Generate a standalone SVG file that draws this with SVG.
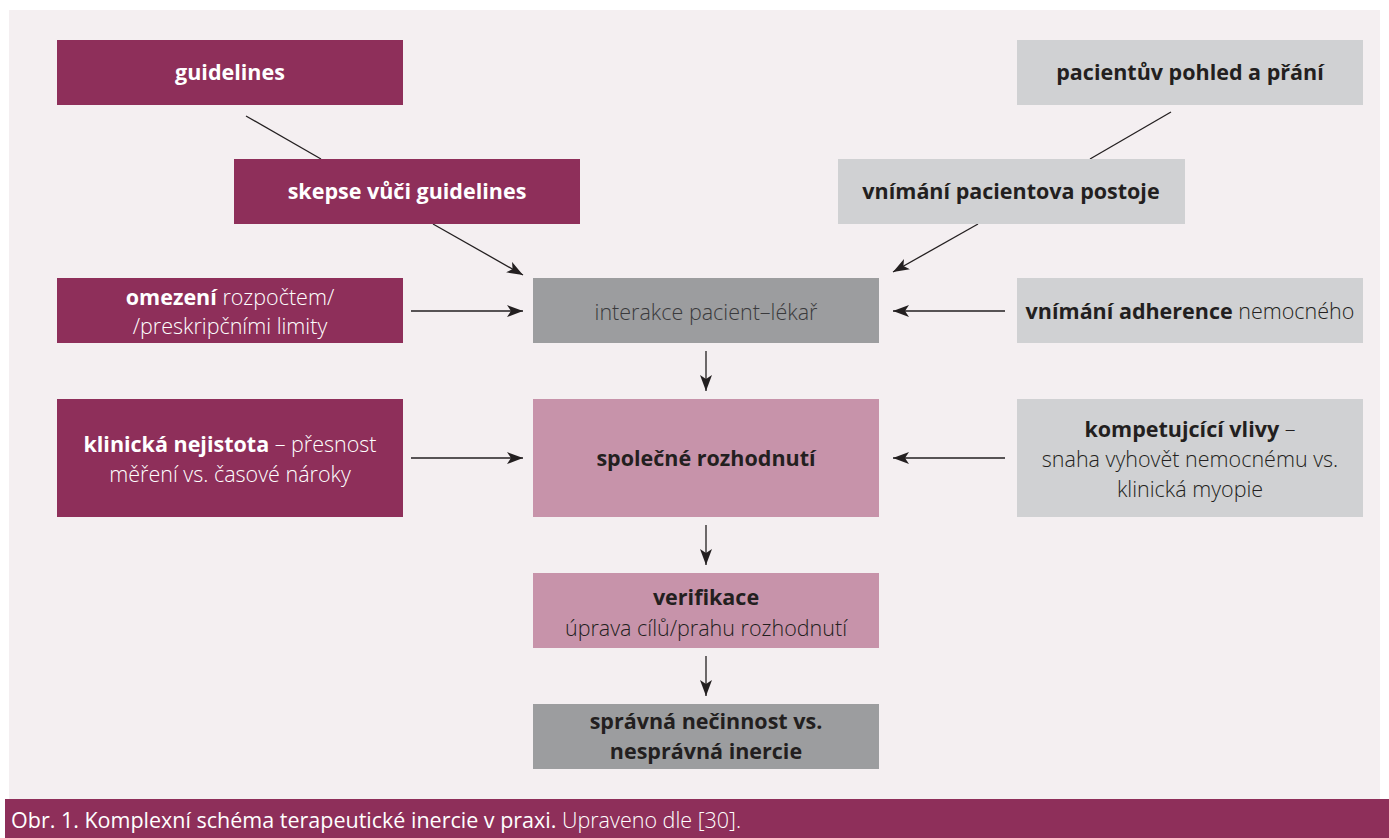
<svg xmlns="http://www.w3.org/2000/svg" width="1389" height="838" viewBox="0 0 1389 838">
<defs>
<marker id="ah" markerUnits="userSpaceOnUse" markerWidth="18" markerHeight="14" refX="16" refY="6" orient="auto">
<path d="M0,0 L16,6 L0,12 L4,6 z" fill="#231f20"/>
</marker>
<style>
.mag{fill:#8e2f5a}
.pink{fill:#c793aa}
.dg{fill:#9c9d9f}
.lg{fill:#d0d1d3}
text{font-family:"Open Sans",Lato,"Noto Sans",sans-serif;font-size:21.5px;text-anchor:middle}
.w{fill:#ffffff}
.d{fill:#231f20}
.b{font-weight:700}
.l{font-weight:300}
.conn line{stroke:#231f20;stroke-width:1.3}
.cap{font-size:21.5px;text-anchor:start;fill:#ffffff}
</style>
</defs>
<rect x="0" y="0" width="1389" height="838" fill="#ffffff"/>
<rect x="9" y="10" width="1371" height="789" fill="#f4eff1"/>
<rect x="5" y="799" width="1384" height="39" fill="#8e2f5a"/>
<text class="cap" x="11" y="828"><tspan>Obr. 1. Komplexní schéma terapeutické inercie v praxi.</tspan><tspan class="l"> Upraveno dle [30].</tspan></text>

<g class="conn">
<line x1="246" y1="116" x2="321" y2="159"/>
<line x1="433" y1="224" x2="523" y2="275" marker-end="url(#ah)"/>
<line x1="1171" y1="112" x2="1090" y2="159"/>
<line x1="978" y1="224" x2="893" y2="272" marker-end="url(#ah)"/>
<line x1="411" y1="311" x2="523" y2="311" marker-end="url(#ah)"/>
<line x1="1005" y1="311" x2="893" y2="311" marker-end="url(#ah)"/>
<line x1="411" y1="458" x2="523" y2="458" marker-end="url(#ah)"/>
<line x1="1005" y1="458" x2="893" y2="458" marker-end="url(#ah)"/>
<line x1="706" y1="351" x2="706" y2="391" marker-end="url(#ah)"/>
<line x1="706" y1="525" x2="706" y2="565" marker-end="url(#ah)"/>
<line x1="706" y1="656" x2="706" y2="696" marker-end="url(#ah)"/>
</g>

<g id="guidelines"><rect class="mag" x="57" y="40" width="346" height="65"/>
<text class="w b" x="230" y="80">guidelines</text></g>

<g id="skepse"><rect class="mag" x="234" y="159" width="346" height="65"/>
<text class="w b" x="407" y="199">skepse vůči guidelines</text></g>

<g id="omezeni"><rect class="mag" x="57" y="278" width="346" height="65"/>
<text class="w" x="230" y="305"><tspan class="b">omezení</tspan><tspan class="l"> rozpočtem/</tspan></text>
<text class="w l" x="230" y="334">/preskripčními limity</text></g>

<g id="nejistota"><rect class="mag" x="57" y="399" width="346" height="118"/>
<text class="w" x="230" y="452"><tspan class="b">klinická nejistota</tspan><tspan class="l"> – přesnost</tspan></text>
<text class="w l" x="230" y="482">měření vs. časové nároky</text></g>

<g id="interakce"><rect class="dg" x="533" y="278" width="346" height="65"/>
<text class="l" fill="#3a3a3c" x="706" y="320">interakce pacient–lékař</text></g>

<g id="spolecne"><rect class="pink" x="533" y="399" width="346" height="118"/>
<text class="d b" x="706" y="466">společné rozhodnutí</text></g>

<g id="verifikace"><rect class="pink" x="533" y="573" width="346" height="75"/>
<text class="d b" x="706" y="605">verifikace</text>
<text class="d l" x="706" y="636">úprava cílů/prahu rozhodnutí</text></g>

<g id="spravna"><rect class="dg" x="533" y="704" width="346" height="65"/>
<text class="d b" x="706" y="729">správná nečinnost vs.</text>
<text class="d b" x="706" y="759">nesprávná inercie</text></g>

<g id="pacientuv"><rect class="lg" x="1017" y="40" width="346" height="65"/>
<text class="d b" x="1190" y="80">pacientův pohled a přání</text></g>

<g id="vnimani"><rect class="lg" x="838" y="159" width="347" height="65"/>
<text class="d b" x="1011" y="199">vnímání pacientova postoje</text></g>

<g id="adherence"><rect class="lg" x="1017" y="278" width="346" height="65"/>
<text class="d" x="1190" y="319"><tspan class="b">vnímání adherence</tspan><tspan class="l"> nemocného</tspan></text></g>

<g id="kompetujcici"><rect class="lg" x="1017" y="399" width="346" height="118"/>
<text class="d" x="1190" y="437"><tspan class="b">kompetujcící vlivy</tspan><tspan class="l"> –</tspan></text>
<text class="d l" x="1190" y="467">snaha vyhovět nemocnému vs.</text>
<text class="d l" x="1190" y="497">klinická myopie</text></g>
</svg>
